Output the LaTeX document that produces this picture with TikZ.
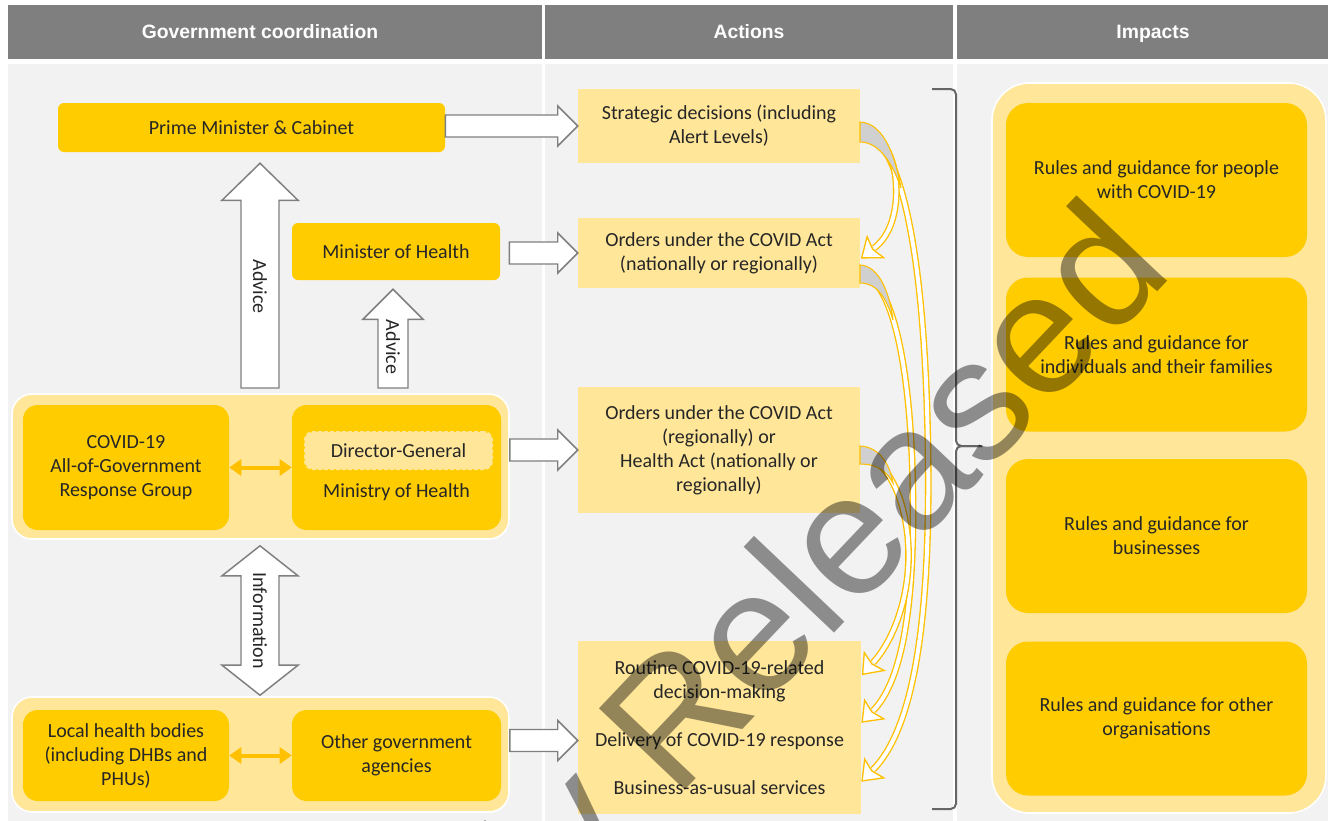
\documentclass[tikz,border=0pt]{standalone}
\usepackage{fontspec}
\setmainfont{Carlito}
\newfontfamily\arialfont{Liberation Sans}
\usetikzlibrary{arrows.meta,calc,decorations.markings}
\definecolor{gold}{HTML}{FFCC00}
\definecolor{lightgold}{HTML}{FFE699}
\definecolor{arrowgold}{HTML}{FFC000}
\definecolor{headgrey}{HTML}{7F7F7F}
\definecolor{bodygrey}{HTML}{F2F2F2}
\definecolor{txt}{HTML}{262626}
\definecolor{bracegrey}{HTML}{666666}
\definecolor{wedgegrey}{HTML}{D0D0D0}
\newcommand\blockright[2]{%
  \draw[blockarrow] ($(#1|-#2)+(0,-11)$) -- ($(#2)+(-20,-11)$) -- ($(#2)+(-20,-20)$) -- (#2)
    -- ($(#2)+(-20,20)$) -- ($(#2)+(-20,11)$) -- ($(#1|-#2)+(0,11)$) -- cycle;}
\newcommand\blockup[5]{%
  \draw[blockarrow] ($(#2|-#1)+(-#3,0)$) -- ($(#2)+(-#3,#5)$) -- ($(#2)+(-#4,#5)$) -- (#2)
    -- ($(#2)+(#4,#5)$) -- ($(#2)+(#3,#5)$) -- ($(#2|-#1)+(#3,0)$) -- cycle;}
\begin{document}
\begin{tikzpicture}[x=0.75pt,y=-0.75pt,
  every node/.style={text=txt, font=\fontsize{15}{18}\selectfont, align=center, inner sep=0pt},
  headtxt/.style={text=white, anchor=base, font=\arialfont\bfseries\fontsize{14.5}{17}\selectfont},
  box/.style={fill=gold, draw=none, rounded corners=4.5pt},
  rbox/.style={fill=gold, draw=none, rounded corners=11pt},
  ibox/.style={fill=gold, draw=none, rounded corners=16.5pt, minimum width=225.75pt, minimum height=115.5pt},
  container/.style={fill=lightgold, draw=white, line width=1.2pt},
  action/.style={fill=lightgold, draw=none, minimum width=211.5pt},
  blockarrow/.style={fill=white, draw=headgrey, line width=1.1pt, line join=miter},
  dblarrow/.style={draw=arrowgold, line width=3pt, {Triangle[length=9pt,width=12pt]}-{Triangle[length=9pt,width=12pt]}},
  curv/.style={draw=arrowgold, line width=5pt, postaction={draw=white, line width=3pt}, postaction={decorate},
    decoration={markings, mark=at position 1 with {\filldraw[fill=white, draw=arrowgold, line width=1pt, line join=miter] (-1pt,10pt) -- (12pt,0pt) -- (-1pt,-10pt) -- (1.5pt,0pt) -- cycle;}}},
  wedge/.style={fill=wedgegrey, draw=arrowgold, line width=0.8pt},
  bracket/.style={draw=bracegrey, line width=1.5pt, rounded corners=4pt}]
\useasboundingbox (0,0) rectangle (1328,821);
\fill[white] (0,0) rectangle (1328,821);
% header
\fill[headgrey] (8,5) rectangle (542,59);
\fill[headgrey] (545,5) rectangle (953,59);
\fill[headgrey] (957,5) rectangle (1328,59);
\node[headtxt] (h1) at (260,38) {Government coordination};
\node[headtxt] (h2) at (749,38) {Actions};
\node[headtxt] (h3) at (1153,38) {Impacts};
% body columns
\fill[bodygrey] (8,64) rectangle (542,821);
\fill[bodygrey] (545,64) rectangle (953,821);
\fill[bodygrey] (957,64) rectangle (1328,821);

% left column
\node[box, minimum width=290.25pt, minimum height=36.75pt] (pm) at (251.5,127.5) {Prime Minister \& Cabinet};
\node[box, minimum width=156pt, minimum height=42.75pt] (minh) at (396,251.5) {Minister of Health};
\node[container, rounded corners=15pt, minimum width=372.75pt, minimum height=108.75pt] (grp1) at (260.5,466.5) {};
\node[rbox, minimum width=154.5pt, minimum height=93.75pt] (aog) at (126,467.5) {COVID-19\\All-of-Government\\Response Group};
\node[rbox, minimum width=156.75pt, minimum height=93.75pt] (moh) at (396.5,467.5) {};
\node[fill=lightgold, draw=lightgold, dashed, dash pattern=on 3pt off 1.5pt, line width=1.5pt, rounded corners=6pt,
      minimum width=140.25pt, minimum height=27.75pt] (dg) at (398.5,450.5) {Director-General};
\node (mohlab) at (396.5,492) {Ministry of Health};
\draw[dblarrow] (aog.east) -- (moh.west);

\node[container, rounded corners=15pt, minimum width=372.75pt, minimum height=86.25pt] (grp2) at (260.5,754.5) {};
\node[rbox, minimum width=154.5pt, minimum height=68.25pt] (local) at (126,755.5) {Local health bodies\\(including DHBs and\\PHUs)};
\node[rbox, minimum width=156.75pt, minimum height=68.25pt] (other) at (396.5,755.5) {Other government\\agencies};
\draw[dblarrow] (local.east) -- (other.west);

% vertical block arrows
\coordinate (a1b) at (260,388);
\coordinate (a1t) at ($(a1b|-pm.south)+(0,11)$);
\blockup{a1b}{a1t}{19}{38}{37}
\node[rotate=-90] (adv1) at ($(a1b)!0.45!(a1t)$) {Advice};
\coordinate (a2b) at (393,388);
\coordinate (a2t) at ($(a2b|-minh.south)+(0,9)$);
\blockup{a2b}{a2t}{15}{30}{30}
\node[rotate=-90] (adv2) at (393,347) {Advice};
\coordinate (it) at ($(grp1.south)+(-0.5,6)$);
\coordinate (ib) at ($(grp2.north)+(-0.5,-1)$);
\draw[blockarrow] (it) -- ++(38,30) -- ++(-19,0) -- ($(ib)+(19,-30)$) -- ++(19,0) -- (ib)
   -- ++(-38,-30) -- ++(19,0) -- ($(it)+(-19,30)$) -- ++(-19,0) -- cycle;
\node[rotate=-90] (info) at ($(it)!0.5!(ib)$) {Information};

% actions
\node[action, minimum height=55.5pt] (strat) at (719,126) {Strategic decisions (including\\Alert Levels)};
\node[action, minimum height=52.5pt] (ordc) at (719,253) {Orders under the COVID Act\\(nationally or regionally)};
\node[action, minimum height=94.5pt] (ordh) at (719,450) {Orders under the COVID Act\\(regionally) or\\Health Act (nationally or\\regionally)};
\node[action, minimum width=212.25pt, minimum height=129.75pt] (rout) at (719.5,727.5) {};
\node (rt1) at (719.5,681) {Routine COVID-19-related\\decision-making};
\node (rt2) at (719.5,741) {Delivery of COVID-19 response};
\node (rt3) at (719.5,788) {Business-as-usual services};

% horizontal block arrows
\coordinate (mohout) at ($(minh.east)+(9,0)$);
\coordinate (routin) at ($(rout.west)+(0,13)$);
\blockright{pm.east}{strat.west}
\blockright{mohout}{ordc.west}
\blockright{grp1.east}{ordh.west}
\blockright{grp2.east}{routin}

% curved arrows
\coordinate (endA1) at ($(ordc.east)+(14,-5)$);
\coordinate (endA2) at ($(rout.east)+(12,42)$);
\coordinate (endB) at ($(rout.east)+(12,-17)$);
\coordinate (endC) at ($(rout.east)+(12,-65)$);
\draw[curv] ($(strat.east)+(0,6)$) .. controls (900,135) and (925,250) .. (928,450) .. controls (931,640) and (909,733) .. (endA2);
\draw[curv] ($(ordc.east)+(0,21)$) .. controls (895,278) and (912,380) .. (913,500) .. controls (914,620) and (899,684) .. (endB);
\draw[curv] ($(ordh.east)+(0,5)$) .. controls (895,460) and (912,520) .. (908,570) .. controls (905,610) and (890,644) .. (endC);
\draw[curv] ($(strat.east)+(0,6)$) .. controls (890,135) and (898,170) .. (896,200) .. controls (894,222) and (887,238) .. (endA1);
\draw[wedge] (860,122) .. controls (885,123) and (896,160) .. (901,188) .. controls (893,165) and (880,142) .. (860,142) -- cycle;
\draw[wedge] (860,265) .. controls (880,266) and (890,295) .. (893,320) .. controls (887,300) and (878,283) .. (860,283) -- cycle;
\draw[wedge] (860,446) .. controls (880,447) and (890,465) .. (893,483) .. controls (887,472) and (878,464) .. (860,464) -- cycle;

% bracket
\draw[bracket] (932,89) -- (956,89) -- (956,446) -- (982,446);
\draw[bracket] (982,446) -- (956,446) -- (956,809) -- (932,809);

% impacts
\node[container, rounded corners=28pt, minimum width=250.5pt, minimum height=547.5pt] (imp) at (1159,448) {};
\node[ibox] (i1) at (1156.5,180) {Rules and guidance for people\\with COVID-19};
\node[ibox] (i2) at (1156.5,354.5) {Rules and guidance for\\individuals and their families};
\node[ibox] (i3) at (1156.5,536) {Rules and guidance for\\businesses};
\node[ibox] (i4) at (1156.5,718.5) {Rules and guidance for other\\organisations};

% watermark
\begin{scope}
\clip (0,0) rectangle (1328,821);
\node[rotate=46.5, anchor=base east, text=black, opacity=0.42, font=\arialfont\fontsize{129}{129}\selectfont] (wm) at (1176,273) {Proactively Released};
\end{scope}
\end{tikzpicture}
\end{document}
